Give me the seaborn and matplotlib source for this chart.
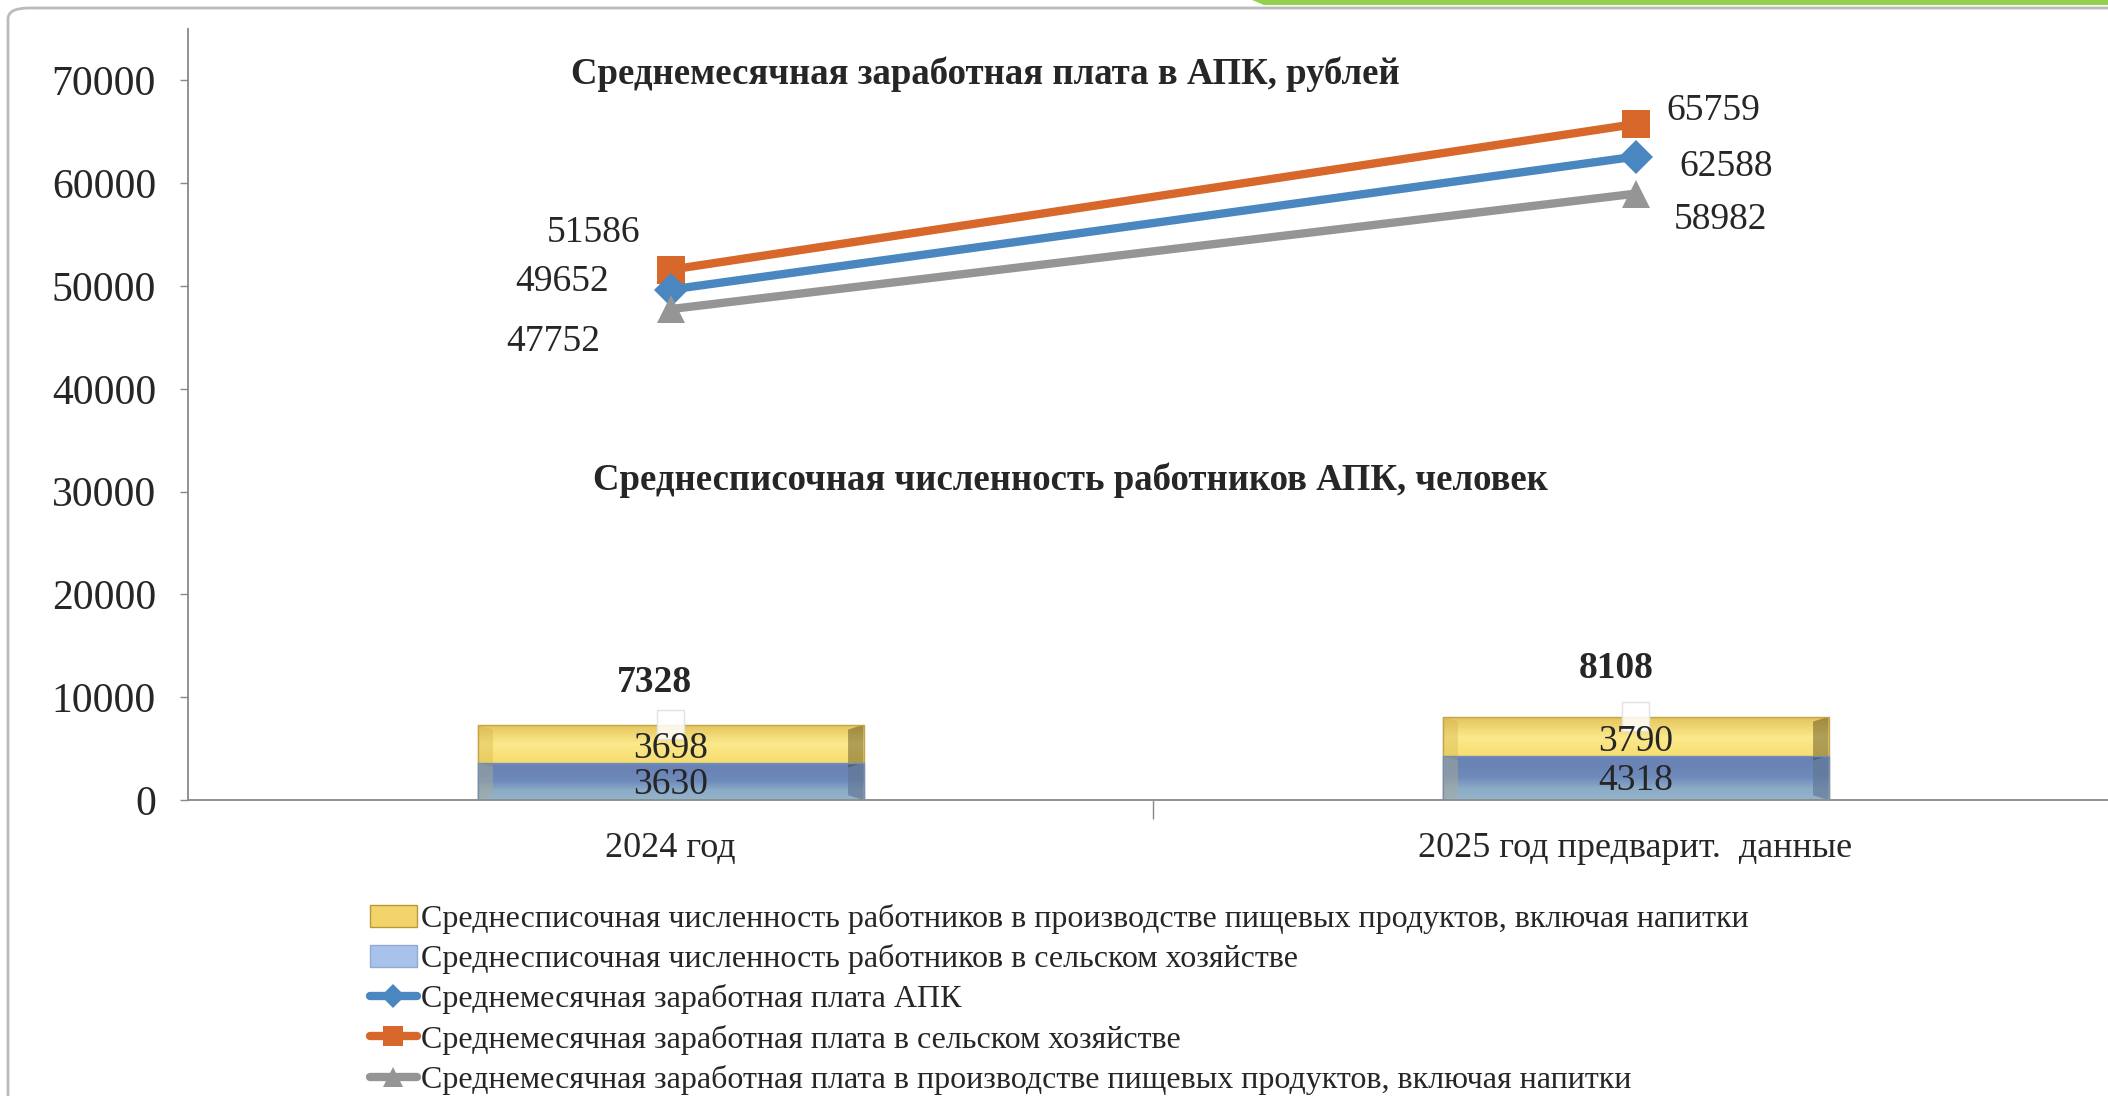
"""
Chart: average salary and headcount in the agro-industrial complex (АПК)
"""

import numpy as np
import pandas as pd
import seaborn as sns
import matplotlib.pyplot as plt
from matplotlib.colors import LinearSegmentedColormap
from matplotlib.patches import FancyBboxPatch, Polygon, Patch, Rectangle
from matplotlib.lines import Line2D

years = ["2024 год", "2025 год предварит.  данные"]

# headcount, persons
staff_agri = [3630, 4318]
staff_food = [3698, 3790]
staff_total = [7328, 8108]

# average monthly salary, rubles
wage_apk = [49652, 62588]
wage_agri = [51586, 65759]
wage_food = [47752, 58982]

series_names = [
    "Среднесписочная численность работников в производстве пищевых продуктов, включая напитки",
    "Среднесписочная численность работников в сельском хозяйстве",
    "Среднемесячная заработная плата АПК",
    "Среднемесячная заработная плата в сельском хозяйстве",
    "Среднемесячная заработная плата в производстве пищевых продуктов, включая напитки",
]

title_wage = "Среднемесячная заработная плата в АПК, рублей"
title_staff = "Среднесписочная численность работников АПК, человек"

C_BLUE = "#4A86C0"
C_ORANGE = "#D7672A"
C_GRAY = "#959595"
C_YELLOW = "#F2D46A"
C_BARBLUE = "#7E9CC6"
C_AXIS = "#888888"

W, H = 2108, 1096
BEVEL_X = 0.016   # in category units
BEVEL_Y = 480     # in data units


def fx(px):
    return px / W


def fy(py):
    return 1 - py / H


def shade_bar(ax, patch, colors, edge, left_col, right_col):
    """Fill a bar patch with a vertical gradient and bevelled ends"""
    x0, y0 = patch.get_x(), patch.get_y()
    w, h = patch.get_width(), patch.get_height()
    x1, y1 = x0 + w, y0 + h
    cmap = LinearSegmentedColormap.from_list("g", colors)
    grad = np.linspace(0, 1, 64).reshape(-1, 1)
    im = ax.imshow(grad, cmap=cmap, aspect="auto", origin="upper",
                   extent=(x0, x1, y0, y1), zorder=2)
    im.set_clip_path(patch)
    ax.add_patch(Polygon([(x0, y0), (x0 + BEVEL_X, y0 + BEVEL_Y),
                          (x0 + BEVEL_X, y1 - BEVEL_Y), (x0, y1)],
                         facecolor=left_col, edgecolor="none", zorder=2.5))
    ax.add_patch(Polygon([(x1, y0), (x1 - BEVEL_X, y0 + BEVEL_Y),
                          (x1 - BEVEL_X, y1 - BEVEL_Y), (x1, y1)],
                         facecolor=right_col, edgecolor="none", zorder=2.5))
    patch.set_facecolor("none")
    patch.set_edgecolor(edge)
    patch.set_linewidth(1.0)
    patch.set_zorder(3)


def run() -> None:
    sns.set_style("white")
    plt.rcParams["font.family"] = ["Liberation Serif", "DejaVu Serif"]

    fig = plt.figure(figsize=(W / 100, H / 100), dpi=100)
    ax = fig.add_axes([fx(188), 1 - 800 / H, (2118 - 188) / W, (800 - 29) / H])

    bars = pd.DataFrame({"year": years, "total": staff_total, "agri": staff_agri})
    sns.barplot(data=bars, x="year", y="total", color=C_YELLOW, width=0.4,
                saturation=1, ax=ax, edgecolor="none", zorder=2)
    n_food = len(ax.patches)
    sns.barplot(data=bars, x="year", y="agri", color=C_BARBLUE, width=0.4,
                saturation=1, ax=ax, edgecolor="none", zorder=2)
    food_patches = list(ax.patches[:n_food])
    agri_patches = list(ax.patches[n_food:])
    for p in food_patches:
        shade_bar(ax, p, ["#E4C45A", "#FBE98C", "#F7DD6E", "#D5B54C", "#9E8230"],
                  "#C4A448", (0.80, 0.66, 0.25, 0.30), (0.25, 0.20, 0.05, 0.40))
    for p in agri_patches:
        shade_bar(ax, p, ["#6A83B4", "#6A84B5", "#6E8BBB", "#8CACC7", "#94B3CB"],
                  "#7090C4", (0.55, 0.68, 0.85, 0.30), (0.45, 0.60, 0.85, 0.45))

    # empty label boxes sitting on top of the stacks
    for i, tot in enumerate(staff_total):
        ax.add_patch(Rectangle((i - 0.0145, tot - 1350), 0.029, 2800,
                               facecolor=(1, 1, 1, 0.85), edgecolor="#E2E2E2",
                               lw=1, zorder=3.5))

    for i in range(len(years)):
        ax.text(i, staff_agri[i] / 2 - 300, str(staff_agri[i]), ha="center",
                va="center", fontsize=27, zorder=5)
        ax.text(i, staff_agri[i] + staff_food[i] / 2 - 500, str(staff_food[i]),
                ha="center", va="center", fontsize=27, zorder=5)
    ax.annotate(str(staff_total[0]), (0, staff_total[0]), xytext=(-16, 42),
                textcoords="offset pixels", ha="center", va="center",
                fontsize=27, fontweight="bold")
    ax.annotate(str(staff_total[1]), (1, staff_total[1]), xytext=(-19, 48),
                textcoords="offset pixels", ha="center", va="center",
                fontsize=27, fontweight="bold")

    xs = [0, 1]
    lines = [
        (wage_agri, C_ORANGE, "s", 20, [(-77, 37), (78, 13)]),
        (wage_apk, C_BLUE, "D", 17, [(-108, 8), (91, -10)]),
        (wage_food, C_GRAY, "^", 20, [(-117, -33), (85, -26)]),
    ]
    for vals, col, mk, ms, offs in lines:
        sns.lineplot(x=xs, y=vals, color=col, linewidth=6, marker=mk,
                     markersize=ms, markeredgewidth=0, ax=ax, zorder=4)
        for x, v, off in zip(xs, vals, offs):
            ax.annotate(str(v), (x, v), xytext=off, textcoords="offset pixels",
                        ha="center", va="center", fontsize=27)

    ax.set_xlim(-0.5, 1.5)
    ax.set_ylim(0, 75000)
    ax.set_yticks(range(0, 70001, 10000))
    ax.set_xticks([0, 1])
    ax.set_xticklabels(years)
    ax.set_xticks([0.5], minor=True)
    ax.set_xlabel("")
    ax.set_ylabel("")
    ax.tick_params(axis="y", labelsize=30, length=6, width=1, color=C_AXIS,
                   pad=17, left=True)
    ax.tick_params(axis="x", which="major", labelsize=26, length=0, pad=23)
    ax.tick_params(axis="x", which="minor", length=14, width=1, color=C_AXIS,
                   bottom=True)
    for side in ["top", "right"]:
        ax.spines[side].set_visible(False)
    for side in ["left", "bottom"]:
        ax.spines[side].set_color(C_AXIS)
        ax.spines[side].set_linewidth(1.3)

    fig.text(fx(985), fy(74), title_wage, ha="center", va="center",
             fontsize=26.5, fontweight="bold")
    fig.text(fx(1070), fy(480), title_staff, ha="center", va="center",
             fontsize=26.5, fontweight="bold")

    handles = [
        Patch(facecolor="#F2D46A", edgecolor="#B89A3C"),
        Patch(facecolor="#A9C2EA", edgecolor="#8FAAD8"),
        Line2D([], [], color=C_BLUE, lw=6, marker="D", ms=12, mew=0),
        Line2D([], [], color=C_ORANGE, lw=6, marker="s", ms=14, mew=0),
        Line2D([], [], color=C_GRAY, lw=6, marker="^", ms=14, mew=0),
    ]
    fig.legend(handles, series_names, loc="upper left",
               bbox_to_anchor=(fx(370), fy(904)), frameon=False, fontsize=23,
               handlelength=1.47, handletextpad=0.12, labelspacing=0.32,
               borderpad=0, borderaxespad=0)

    # chart area frame and the green slide band at top
    fig.patches.append(FancyBboxPatch((fx(8), -0.1), 1.2, fy(8) + 0.1,
                                      boxstyle="round,pad=0,rounding_size=0.01",
                                      transform=fig.transFigure, fill=False,
                                      edgecolor="#BBBBBB", lw=2))
    fig.patches.append(Polygon([(fx(1252), 1), (fx(1264), fy(5)), (1, fy(5)), (1, 1)],
                               closed=True, transform=fig.transFigure,
                               facecolor="#92D050", edgecolor="none"))

    plt.savefig("out.png", dpi=100)


if __name__ == "__main__":
    run()
